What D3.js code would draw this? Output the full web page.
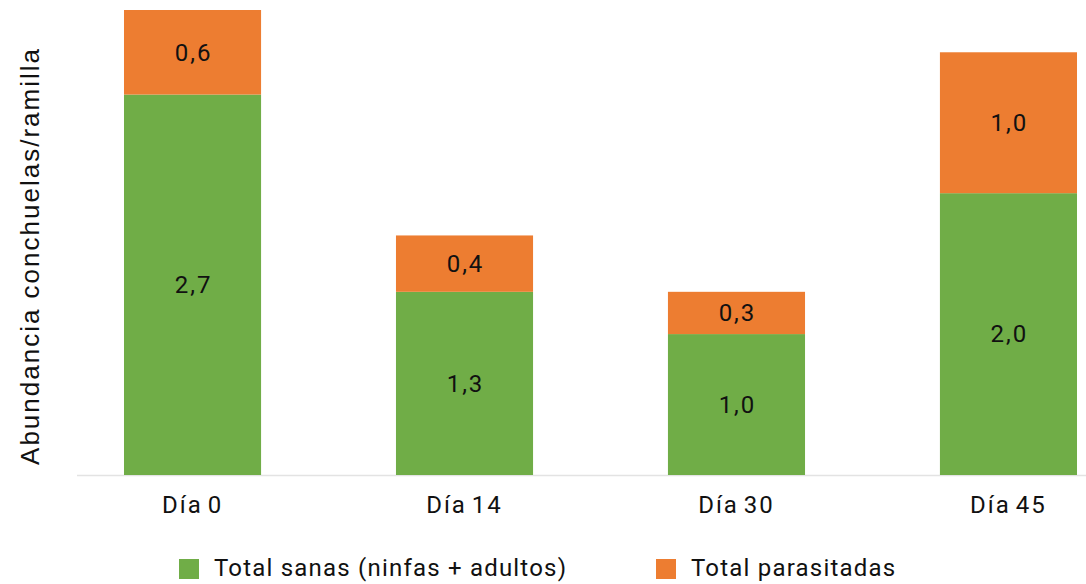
<!DOCTYPE html>
<html>
<head>
<meta charset="utf-8">
<script src="https://cdn.jsdelivr.net/npm/d3@7"></script>
<style>
  html, body { margin: 0; padding: 0; background: #fff; }
  svg { display: block; }
</style>
</head>
<body>
<svg id="chart" width="1086" height="584"></svg>
<script>
// Sampling days
const categories = ["Día 0", "Día 14", "Día 30", "Día 45"];
// Healthy scale insects per twig (nymphs + adults)
const sanas = [2.7, 1.3, 1.0, 2.0];
// Parasitized scale insects per twig
const parasitadas = [0.6, 0.4, 0.3, 1.0];
const seriesNames = ["Total sanas (ninfas + adultos)", "Total parasitadas"];
const seriesColors = ["#70ad47", "#ed7d31"];

const svg = d3.select("#chart");
const baseY = 475;

const x = d3.scaleBand()
  .domain(categories)
  .range([56, 1145])
  .paddingInner(0.496)
  .paddingOuter(0.25);

const y = d3.scaleLinear()
  .domain([0, 3.3])
  .range([baseY, 10]);

const rows = categories.map((c, i) => ({ cat: c, sanas: sanas[i], parasitadas: parasitadas[i] }));
const stack = d3.stack().keys(["sanas", "parasitadas"])(rows);

// baseline
svg.append("line")
  .attr("x1", 77).attr("x2", 1086)
  .attr("y1", baseY + 0.5).attr("y2", baseY + 0.5)
  .attr("stroke", "#e3e3e3").attr("stroke-width", 1.5);

const labelFont = "Roboto, 'Noto Sans', sans-serif";

stack.forEach((layer, k) => {
  const g = svg.append("g");
  g.selectAll("rect").data(layer).join("rect")
    .attr("x", d => x(d.data.cat))
    .attr("width", x.bandwidth())
    .attr("y", d => y(d[1]))
    .attr("height", d => y(d[0]) - y(d[1]))
    .attr("fill", seriesColors[k]);
  g.selectAll("text").data(layer).join("text")
    .attr("x", d => x(d.data.cat) + x.bandwidth() / 2 + 1)
    .attr("y", d => (y(d[0]) + y(d[1])) / 2)
    .attr("dy", "0.35em")
    .attr("text-anchor", "middle")
    .attr("font-family", labelFont)
    .attr("font-size", 24)
    .attr("letter-spacing", 2)
    .attr("fill", "#111")
    .text(d => d3.format(".1f")(d[1] - d[0]).replace(".", ","));
});

// category axis
const xAxis = svg.append("g")
  .attr("transform", `translate(0,${baseY})`)
  .call(d3.axisBottom(x).tickSize(0).tickPadding(21));
xAxis.select(".domain").remove();
xAxis.selectAll("text")
  .attr("font-family", labelFont)
  .attr("font-size", 24)
  .attr("letter-spacing", 2)
  .attr("word-spacing", -3)
  .attr("fill", "#111");

// y axis title
svg.append("text")
  .attr("transform", "translate(39,256) rotate(-90)")
  .attr("text-anchor", "middle")
  .attr("font-family", "'Liberation Sans', Arial, sans-serif")
  .attr("font-size", 26)
  .attr("letter-spacing", 2)
  .attr("fill", "#111")
  .text("Abundancia conchuelas/ramilla");

// legend
const legendX = [179, 656];
const legend = svg.append("g");
seriesNames.forEach((name, i) => {
  legend.append("rect")
    .attr("x", legendX[i]).attr("y", 559)
    .attr("width", 20).attr("height", 20)
    .attr("fill", seriesColors[i]);
  legend.append("text")
    .attr("x", legendX[i] + 35).attr("y", 576)
    .attr("font-family", labelFont)
    .attr("font-size", 24)
    .attr("letter-spacing", 1.2)
    .attr("fill", "#111")
    .text(name);
});
</script>
</body>
</html>
